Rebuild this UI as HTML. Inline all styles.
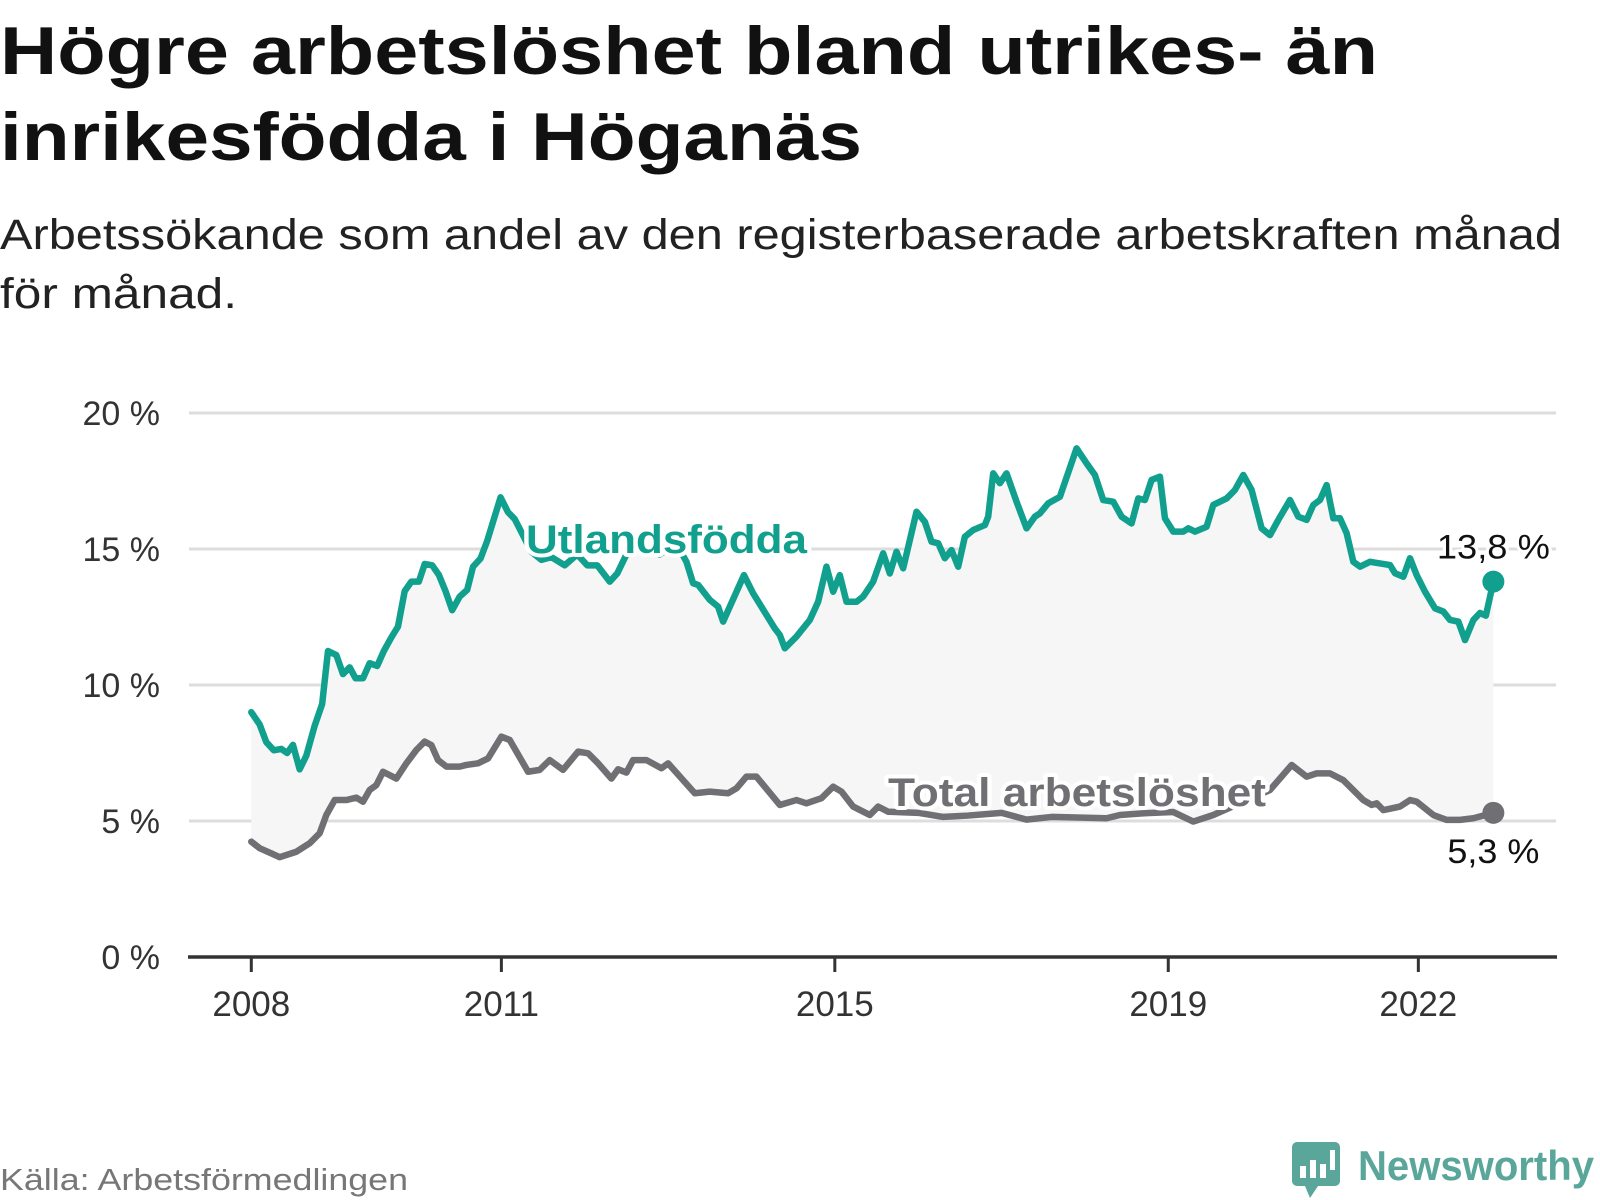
<!DOCTYPE html>
<html><head><meta charset="utf-8"><style>
html,body{margin:0;padding:0;background:#fff;width:1600px;height:1200px;overflow:hidden}
svg{display:block}
</style></head><body>
<svg id="chart" width="1600" height="1200" font-family="Liberation Sans, sans-serif">
<text x="0" y="74" font-size="68" font-weight="bold" fill="#111" textLength="1378" lengthAdjust="spacingAndGlyphs">Högre arbetslöshet bland utrikes- än</text>
<text x="0" y="160" font-size="68" font-weight="bold" fill="#111" textLength="862" lengthAdjust="spacingAndGlyphs">inrikesfödda i Höganäs</text>
<text x="0" y="249" font-size="43" fill="#222" textLength="1562" lengthAdjust="spacingAndGlyphs">Arbetssökande som andel av den registerbaserade arbetskraften månad</text>
<text x="0" y="308" font-size="43" fill="#222" textLength="237" lengthAdjust="spacingAndGlyphs">för månad.</text>
<g id="grid"></g><g id="plot"></g><g id="axes"></g>
<text x="0" y="1190" font-size="31" fill="#777" textLength="408" lengthAdjust="spacingAndGlyphs">Källa: Arbetsförmedlingen</text>
<g>
<rect x="1292" y="1142" width="48" height="44" rx="5" fill="#5aa69a"/>
<polygon points="1305,1186 1318,1186 1310,1198" fill="#5aa69a"/>
<rect x="1300" y="1166" width="6" height="12" fill="#fff"/><rect x="1310" y="1160" width="6" height="18" fill="#fff"/><rect x="1320" y="1164" width="6" height="14" fill="#fff"/><rect x="1330" y="1150" width="5" height="20" fill="#fff"/>
<text x="1358" y="1180" font-size="42" font-weight="bold" fill="#5aa69a" textLength="236" lengthAdjust="spacingAndGlyphs">Newsworthy</text>
</g>
</svg>
<script>
const yTicks=[0,5,10,15,20];
const yTickLabels=["0 %","5 %","10 %","15 %","20 %"];
const xTicks=[2008,2011,2015,2019,2022];
const utlT=[0,0.1,0.18,0.27,0.36,0.43,0.5,0.58,0.66,0.76,0.85,0.92,1.02,1.1,1.18,1.25,1.34,1.42,1.51,1.59,1.68,1.76,1.84,1.92,2.01,2.08,2.17,2.25,2.33,2.41,2.5,2.59,2.66,2.75,2.83,2.9,2.99,3.08,3.16,3.26,3.36,3.48,3.6,3.76,3.91,4.03,4.15,4.3,4.39,4.5,4.7,4.9,5.1,5.22,5.3,5.36,5.5,5.6,5.66,5.91,6.02,6.28,6.34,6.4,6.54,6.7,6.8,6.9,6.98,7.06,7.14,7.26,7.34,7.46,7.58,7.66,7.74,7.82,7.98,8.08,8.16,8.24,8.32,8.4,8.48,8.56,8.66,8.8,8.84,8.9,8.98,9.06,9.18,9.3,9.4,9.46,9.56,9.7,9.9,10.02,10.12,10.22,10.34,10.44,10.56,10.64,10.72,10.8,10.9,10.96,11.06,11.18,11.24,11.32,11.46,11.54,11.7,11.8,11.9,12,12.12,12.22,12.32,12.46,12.56,12.66,12.74,12.82,12.9,12.98,13.06,13.14,13.22,13.3,13.42,13.54,13.66,13.72,13.82,13.9,13.98,14.08,14.2,14.3,14.38,14.48,14.56,14.66,14.74,14.81,14.9];
const utlV=[9.0,8.55,7.9,7.6,7.65,7.5,7.8,6.9,7.4,8.5,9.3,11.25,11.1,10.4,10.65,10.25,10.25,10.8,10.7,11.25,11.75,12.15,13.45,13.8,13.8,14.45,14.4,14.05,13.45,12.75,13.25,13.5,14.35,14.65,15.3,16.0,16.9,16.35,16.1,15.5,14.9,14.6,14.7,14.4,14.8,14.4,14.4,13.8,14.1,14.8,15.0,14.8,15.2,14.53,13.74,13.68,13.13,12.88,12.33,14.04,13.37,12.08,11.84,11.35,11.78,12.39,13.06,14.35,13.43,14.04,13.06,13.06,13.25,13.8,14.84,14.1,14.9,14.29,16.37,16.0,15.27,15.21,14.66,14.96,14.35,15.45,15.7,15.88,16.19,17.78,17.42,17.78,16.74,15.76,16.19,16.31,16.68,16.92,18.7,18.15,17.72,16.8,16.74,16.19,15.94,16.86,16.8,17.54,17.66,16.13,15.64,15.64,15.76,15.64,15.82,16.62,16.86,17.17,17.72,17.17,15.76,15.51,16.07,16.8,16.19,16.07,16.62,16.8,17.35,16.13,16.13,15.58,14.53,14.35,14.53,14.47,14.41,14.11,13.98,14.66,14.04,13.43,12.82,12.7,12.39,12.33,11.65,12.39,12.65,12.55,13.8];
const totT=[0,0.1,0.24,0.34,0.54,0.7,0.82,0.9,1.0,1.14,1.26,1.34,1.42,1.5,1.58,1.74,1.86,1.98,2.08,2.16,2.24,2.34,2.5,2.58,2.72,2.84,3.0,3.1,3.32,3.46,3.58,3.74,3.92,4.04,4.16,4.32,4.4,4.5,4.58,4.74,4.92,5.0,5.32,5.5,5.72,5.82,5.94,6.06,6.34,6.54,6.66,6.84,6.98,7.08,7.22,7.42,7.52,7.64,8.0,8.3,8.6,9.0,9.3,9.6,10.26,10.42,10.74,11.06,11.3,11.54,12.22,12.48,12.66,12.78,12.94,13.1,13.34,13.44,13.5,13.58,13.78,13.9,13.98,14.18,14.34,14.5,14.66,14.9];
const totV=[4.24,4.0,3.81,3.67,3.87,4.18,4.55,5.22,5.77,5.77,5.86,5.71,6.14,6.32,6.81,6.56,7.12,7.61,7.92,7.79,7.24,7.0,7.0,7.06,7.12,7.3,8.1,7.98,6.81,6.88,7.24,6.88,7.55,7.49,7.12,6.56,6.9,6.78,7.24,7.24,6.94,7.12,6.02,6.08,6.02,6.2,6.63,6.63,5.59,5.77,5.65,5.84,6.26,6.08,5.53,5.22,5.53,5.34,5.3,5.15,5.2,5.3,5.05,5.15,5.1,5.22,5.29,5.33,4.98,5.22,6.14,7.06,6.63,6.75,6.75,6.5,5.77,5.59,5.65,5.4,5.53,5.77,5.71,5.22,5.04,5.04,5.1,5.3];
const endLabels=["13,8 %","5,3 %"];

const NS="http://www.w3.org/2000/svg";
const X=t=>251.3+t*83.36;
const Y=v=>957-v*27.2;
function mk(tag,attrs,parent){const e=document.createElementNS(NS,tag);for(const k in attrs)e.setAttribute(k,attrs[k]);parent.appendChild(e);return e;}
const grid=document.getElementById('grid'),plot=document.getElementById('plot'),axes=document.getElementById('axes');
yTicks.forEach((v,i)=>{
  if(v>0){const g=mk('line',{x1:189,x2:1556,y1:Y(v),y2:Y(v),stroke:'#ddd','stroke-width':3},grid);
  
  }
  const t=mk('text',{x:160,y:Y(v)+12,'text-anchor':'end','font-size':34,fill:'#333'},axes);
  t.textContent=yTickLabels[i];
  
  
});
const ax=mk('line',{x1:188,x2:1557,y1:957,y2:957,stroke:'#333','stroke-width':3.5},axes);


xTicks.forEach(yr=>{
  const x=X(yr-2008);
  const tk=mk('line',{x1:x,x2:x,y1:957,y2:972,stroke:'#333','stroke-width':3},axes);
  
  
  const t=mk('text',{x:x,y:1016,'text-anchor':'middle','font-size':35,fill:'#333'},axes);
  t.textContent=yr;
  
  
});
let d='M'+utlT.map((t,i)=>X(t)+','+Y(utlV[i])).join('L');
for(let i=totT.length-1;i>=0;i--)d+='L'+X(totT[i])+','+Y(totV[i]);
const area=mk('path',{d:d+'Z',fill:'#f6f6f7'},plot);


function line(T,V,color,name){
  const p=mk('path',{d:'M'+T.map((t,i)=>X(t)+','+Y(V[i])).join('L'),fill:'none',stroke:color,'stroke-width':6.5,'stroke-linejoin':'round','stroke-linecap':'round'},plot);
  
  
}
line(totT,totV,'#707074','line-total');
line(utlT,utlV,'#12a08e','line-utlandsfodda');
function lab(x,y,txt,color,name,len){
  const t=mk('text',{x:x,y:y,'font-size':40,'font-weight':'bold',fill:color,stroke:'#fff','stroke-width':8,'paint-order':'stroke','stroke-linejoin':'round',textLength:len,lengthAdjust:'spacingAndGlyphs'},plot);
  t.textContent=txt;
  
  
}
lab(526,553,'Utlandsfödda','#12a08e','label-utlandsfodda',281);
lab(888,806,'Total arbetslöshet','#707074','label-total',378);
const lu=utlT.length-1,lt=totT.length-1;
const d1=mk('circle',{cx:X(utlT[lu]),cy:Y(utlV[lu]),r:11,fill:'#12a08e'},plot);


const d2=mk('circle',{cx:X(totT[lt]),cy:Y(totV[lt]),r:11,fill:'#707074'},plot);


function endLab(x,y,txt,name,len){
  const t=mk('text',{x:x,y:y,'text-anchor':'middle','font-size':34,fill:'#111',stroke:'#fff','stroke-width':6,'paint-order':'stroke',textLength:len,lengthAdjust:'spacingAndGlyphs'},plot);
  t.textContent=txt;
  
  
}
endLab(X(utlT[lu]),Y(utlV[lu])-23,endLabels[0],'end-label-utlandsfodda',113);
endLab(X(totT[lt]),Y(totV[lt])+50,endLabels[1],'end-label-total',92);
</script>
</body></html>
